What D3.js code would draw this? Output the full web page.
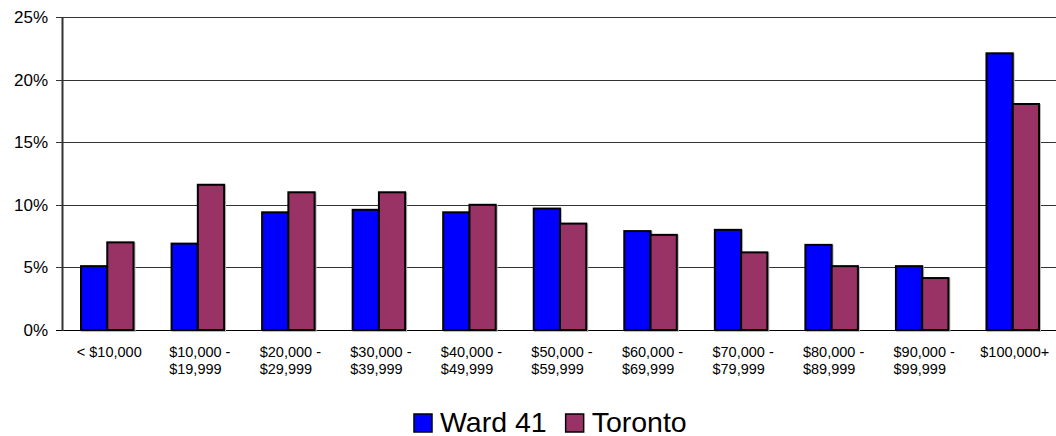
<!DOCTYPE html>
<html>
<head>
<meta charset="utf-8">
<script src="https://cdn.jsdelivr.net/npm/d3@7"></script>
<style>
  body { margin: 0; background: #fff; }
  svg text { font-family: "Liberation Sans", Arial, sans-serif; fill: #000; }
</style>
</head>
<body>
<div id="chart"></div>
<script>
var categories = ["< $10,000", "$10,000 -|$19,999", "$20,000 -|$29,999", "$30,000 -|$39,999",
    "$40,000 -|$49,999", "$50,000 -|$59,999", "$60,000 -|$69,999", "$70,000 -|$79,999",
    "$80,000 -|$89,999", "$90,000 -|$99,999", "$100,000+"];
var ward41 = [5.1, 6.9, 9.4, 9.6, 9.4, 9.7, 7.9, 8.0, 6.8, 5.1, 22.1];
var toronto = [7.0, 11.6, 11.0, 11.0, 10.0, 8.5, 7.6, 6.2, 5.1, 4.15, 18.05];
var seriesNames = ["Ward 41", "Toronto"];
var yTicks = [0, 5, 10, 15, 20, 25];

var chartW = 1056, chartH = 436;
var plotL = 62, plotR = 1058, plotT = 17, plotB = 330;
var colors = ["#0000ff", "#993366"];

var svg = d3.select("#chart").append("svg")
    .attr("width", chartW)
    .attr("height", chartH);

var x = d3.scaleBand().domain(d3.range(categories.length)).range([plotL, plotR]);
var y = d3.scaleLinear().domain([0, 25]).range([plotB, plotT]);
var barW = x.bandwidth() * 0.29;

// gridlines
svg.selectAll(".grid")
    .data(yTicks)
    .enter()
    .append("line")
    .attr("class", "grid")
    .attr("x1", plotL - 6)
    .attr("x2", chartW)
    .attr("y1", function (d) { return Math.round(y(d)) + 0.5; })
    .attr("y2", function (d) { return Math.round(y(d)) + 0.5; })
    .style("stroke", function (d) { return d == 0 ? "#000" : "#333"; })
    .style("stroke-width", 1);

// y labels
svg.selectAll(".ylab")
    .data(yTicks)
    .enter()
    .append("text")
    .attr("x", 48)
    .attr("y", function (d) { return y(d) + 6; })
    .attr("text-anchor", "end")
    .style("font-size", "17px")
    .text(function (d) { return d + "%"; });

// bars
var series = [ward41, toronto];
series.forEach(function (vals, s) {
    var g = svg.append("g");
    // soft shadow
    g.selectAll("rect.sh")
        .data(vals)
        .enter()
        .append("rect")
        .attr("x", function (d, i) { return x(i) + x.bandwidth() / 2 - barW + s * barW + 1; })
        .attr("y", function (d) { return y(d) + 1; })
        .attr("width", barW)
        .attr("height", function (d) { return plotB - y(d); })
        .style("fill", "none")
        .style("stroke", "#bbb")
        .style("stroke-width", 2);
    g.selectAll("rect.bar")
        .data(vals)
        .enter()
        .append("rect")
        .attr("class", "bar")
        .attr("x", function (d, i) { return x(i) + x.bandwidth() / 2 - barW + s * barW; })
        .attr("y", function (d) { return y(d); })
        .attr("width", barW)
        .attr("height", function (d) { return plotB - y(d); })
        .style("fill", colors[s])
        .style("stroke", "#000")
        .style("stroke-width", 2);
});

// y axis line
svg.append("line")
    .attr("x1", plotL + 0.5).attr("x2", plotL + 0.5)
    .attr("y1", plotT).attr("y2", plotB + 1)
    .style("stroke", "#333")
    .style("stroke-width", 2);

// x labels: left-aligned block centred under each category
categories.forEach(function (c, i) {
    var lines = c.split("|");
    var g = svg.append("g");
    var texts = lines.map(function (l, k) {
        return g.append("text")
            .attr("y", 357 + k * 17)
            .style("font-size", "14.5px")
            .text(l);
    });
    var maxW = d3.max(texts, function (t) { return t.node().getComputedTextLength(); });
    var cx = x(i) + x.bandwidth() / 2 + 2;
    texts.forEach(function (t) { t.attr("x", cx - maxW / 2); });
});

// legend
var lg = svg.append("g");
var lx = 414;
seriesNames.forEach(function (n, s) {
    lg.append("rect")
        .attr("x", lx)
        .attr("y", 414)
        .attr("width", 18)
        .attr("height", 18)
        .style("fill", colors[s])
        .style("stroke", "#000")
        .style("stroke-width", 1.5);
    var t = lg.append("text")
        .attr("x", lx + 26)
        .attr("y", 432)
        .style("font-size", "28.5px")
        .text(n);
    lx += 26 + t.node().getComputedTextLength() + 19;
});
</script>
</body>
</html>
